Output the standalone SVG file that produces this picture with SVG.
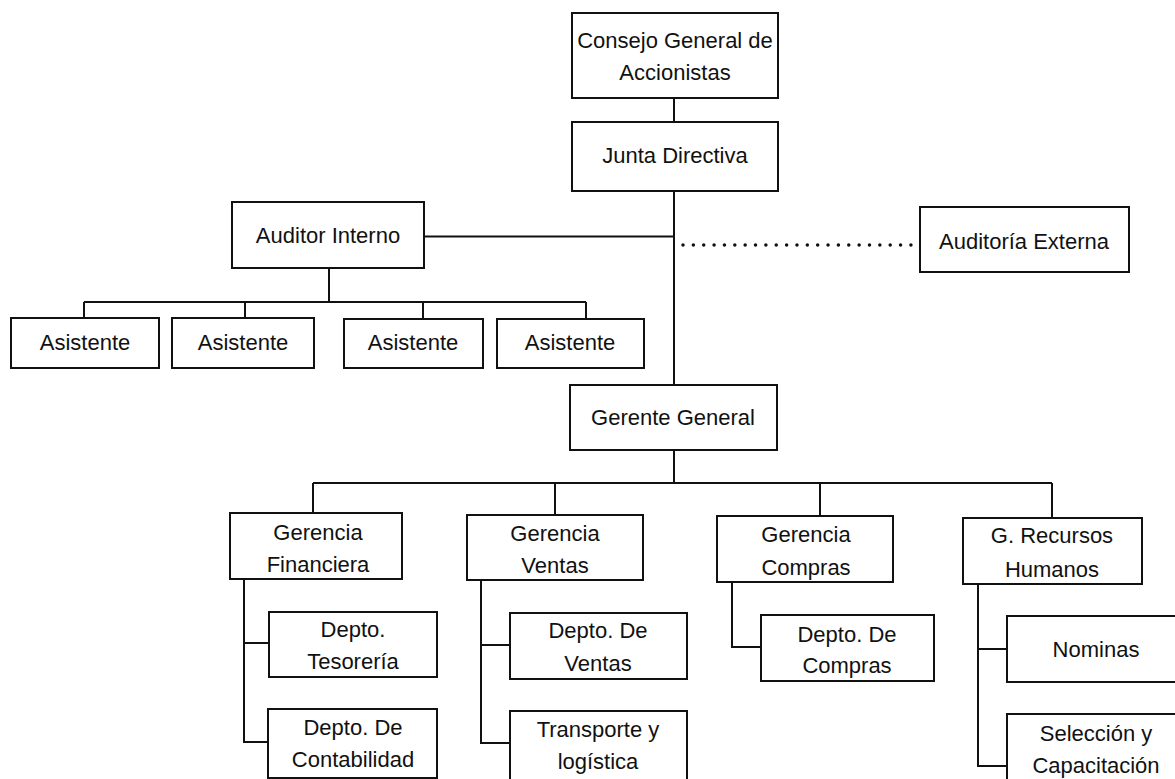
<svg xmlns="http://www.w3.org/2000/svg" width="1175" height="779" viewBox="0 0 1175 779">
<style>
.box{fill:#fff;stroke:#111;stroke-width:2}
.ln{fill:none;stroke:#111;stroke-width:2}
.dot{fill:none;stroke:#111;stroke-width:3.5;stroke-linecap:round;stroke-dasharray:0 10.36}
text{font-family:"Liberation Sans",Arial,sans-serif;font-size:22px;fill:#111;text-anchor:middle}
</style>
<rect width="1175" height="779" fill="#fff"/>
<g id="connectors">
<path class="ln" d="M674 98V122M674 191V385M424 236.5H674M329 268V302M84 302H586M84 302V318M245 302V318M423 302V319M586 302V319"/>
<line class="dot" x1="683" y1="245" x2="911" y2="245"/>
<path class="ln" d="M674 450V483M313 483H1052M313 483V513M555 483V515M820 483V516M1052 483V518"/>
<path class="ln" d="M244 579V742H268M244 643H269M481 580V743H510M481 645H510M732 582V647H761M978 584V766H1007M978 649H1007"/>
</g>
<g id="consejo"><rect class="box" x="572" y="13" width="206" height="85"/><text x="675" y="48">Consejo General de</text><text x="675" y="80">Accionistas</text></g>
<g id="junta"><rect class="box" x="572" y="122" width="206" height="69"/><text x="675" y="163">Junta Directiva</text></g>
<g id="auditor-interno"><rect class="box" x="232" y="202" width="192" height="66"/><text x="328" y="243">Auditor Interno</text></g>
<g id="auditoria-externa"><rect class="box" x="920" y="207" width="209" height="65"/><text x="1024" y="249">Auditoría Externa</text></g>
<g id="asistente1"><rect class="box" x="11" y="318" width="148" height="50"/><text x="85" y="350">Asistente</text></g>
<g id="asistente2"><rect class="box" x="172" y="318" width="142" height="50"/><text x="243" y="350">Asistente</text></g>
<g id="asistente3"><rect class="box" x="344" y="319" width="139" height="49"/><text x="413" y="350">Asistente</text></g>
<g id="asistente4"><rect class="box" x="497" y="319" width="147" height="49"/><text x="570" y="350">Asistente</text></g>
<g id="gerente"><rect class="box" x="570" y="385" width="207" height="65"/><text x="673" y="425">Gerente General</text></g>
<g id="g-financiera"><rect class="box" x="230" y="513" width="172" height="66"/><text x="318" y="540">Gerencia</text><text x="318" y="572">Financiera</text></g>
<g id="g-ventas"><rect class="box" x="467" y="515" width="176" height="65"/><text x="555" y="541">Gerencia</text><text x="555" y="573">Ventas</text></g>
<g id="g-compras"><rect class="box" x="717" y="516" width="176" height="66"/><text x="806" y="542">Gerencia</text><text x="806" y="575">Compras</text></g>
<g id="g-rrhh"><rect class="box" x="963" y="518" width="179" height="66"/><text x="1052" y="543">G. Recursos</text><text x="1052" y="577">Humanos</text></g>
<g id="tesoreria"><rect class="box" x="269" y="612" width="168" height="65"/><text x="353" y="637">Depto.</text><text x="353" y="669">Tesorería</text></g>
<g id="contabilidad"><rect class="box" x="268" y="709" width="169" height="69"/><text x="353" y="735">Depto. De</text><text x="353" y="767">Contabilidad</text></g>
<g id="depto-ventas"><rect class="box" x="510" y="613" width="177" height="66"/><text x="598" y="638">Depto. De</text><text x="598" y="671">Ventas</text></g>
<g id="transporte"><rect class="box" x="510" y="711" width="177" height="70"/><text x="598" y="737">Transporte y</text><text x="598" y="769">logística</text></g>
<g id="depto-compras"><rect class="box" x="761" y="615" width="173" height="66"/><text x="847" y="642">Depto. De</text><text x="847" y="673">Compras</text></g>
<g id="nominas"><rect class="box" x="1007" y="616" width="180" height="66"/><text x="1096" y="657">Nominas</text></g>
<g id="seleccion"><rect class="box" x="1007" y="714" width="180" height="70"/><text x="1096" y="741">Selección y</text><text x="1096" y="773">Capacitación</text></g>
</svg>
